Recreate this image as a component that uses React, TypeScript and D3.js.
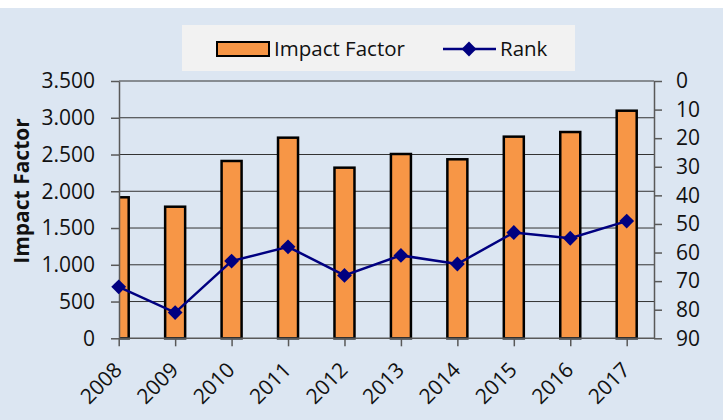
import { useEffect, useRef } from 'react';
import * as d3 from 'd3';

const years = ['2008', '2009', '2010', '2011', '2012', '2013', '2014', '2015', '2016', '2017'];
const impactFactor = [1.918, 1.79, 2.412, 2.729, 2.321, 2.507, 2.435, 2.743, 2.806, 3.096];
const rank = [72, 81, 63, 58, 68, 61, 64, 53, 55, 49];
const leftTicks = [0, 0.5, 1, 1.5, 2, 2.5, 3, 3.5];
const leftTickLabels = ['0', '500', '1.000', '1.500', '2.000', '2.500', '3.000', '3.500'];
const rightTicks = [0, 10, 20, 30, 40, 50, 60, 70, 80, 90];

export default function App() {
  const svgRef = useRef<SVGSVGElement>(null);

  useEffect(() => {
    if (!svgRef.current) return;
    const svg = d3.select(svgRef.current);
    svg.selectAll('*').remove();

    const width = 723;
    const height = 420;
    const left = 119;
    const right = 654;
    const top = 81;
    const bottom = 338.3;

    const orange = '#f79646';
    const navy = '#000080';
    const axisColor = '#595959';
    const textColor = '#111';

    svg.attr('width', width).attr('height', height).style('font-family', "'Open Sans', sans-serif");

    // background
    svg.append('rect').attr('x', 0).attr('y', 8).attr('width', width).attr('height', height - 8).attr('fill', '#dce6f2');

    const x = d3.scalePoint<string>().domain(years).range([118.7, 626.7]);
    const yLeft = d3.scaleLinear().domain([0, 3.5]).range([bottom, top]);
    const yRight = d3.scaleLinear().domain([0, 90]).range([top, bottom]);

    // gridlines
    svg
      .append('g')
      .selectAll('line')
      .data(leftTicks.filter((t) => t > 0))
      .join('line')
      .attr('x1', left)
      .attr('x2', right)
      .attr('y1', (d) => yLeft(d))
      .attr('y2', (d) => yLeft(d))
      .attr('stroke', '#333')
      .attr('stroke-width', 1);

    svg
      .append('clipPath')
      .attr('id', 'plot-clip')
      .append('rect')
      .attr('x', left)
      .attr('y', 0)
      .attr('width', right - left)
      .attr('height', bottom + 4);

    // bars
    const barW = 20;
    svg
      .append('g')
      .attr('clip-path', 'url(#plot-clip)')
      .selectAll('rect')
      .data(impactFactor)
      .join('rect')
      .attr('x', (_, i) => (x(years[i]) ?? 0) - barW / 2)
      .attr('y', (d) => yLeft(d))
      .attr('width', barW)
      .attr('height', (d) => bottom - yLeft(d))
      .attr('fill', orange)
      .attr('stroke', '#000')
      .attr('stroke-width', 2.5);

    // left axis
    const gLeft = svg
      .append('g')
      .attr('transform', `translate(${left},0)`)
      .call(
        d3
          .axisLeft(yLeft)
          .tickValues(leftTicks)
          .tickFormat((_, i) => leftTickLabels[i])
          .tickSize(8)
          .tickSizeOuter(0)
          .tickPadding(16)
      );
    gLeft.selectAll('path,line').attr('stroke', axisColor).attr('stroke-width', 1.5);
    gLeft.selectAll('text').attr('font-size', 21).attr('fill', textColor).attr('font-family', "'Open Sans', sans-serif");

    // right axis
    const gRight = svg
      .append('g')
      .attr('transform', `translate(${right},0)`)
      .call(d3.axisRight(yRight).tickValues(rightTicks).tickSize(8).tickSizeOuter(0).tickPadding(14));
    gRight.selectAll('path,line').attr('stroke', axisColor).attr('stroke-width', 1.5);
    gRight.selectAll('text').attr('font-size', 21).attr('fill', textColor).attr('font-family', "'Open Sans', sans-serif");

    // bottom axis
    svg
      .append('line')
      .attr('x1', left)
      .attr('x2', right)
      .attr('y1', bottom)
      .attr('y2', bottom)
      .attr('stroke', axisColor)
      .attr('stroke-width', 1.5);
    const gBottom = svg
      .append('g')
      .attr('transform', `translate(0,${bottom})`)
      .call(d3.axisBottom(x).tickSize(8).tickSizeOuter(0));
    gBottom.select('.domain').remove();
    gBottom.selectAll('line').attr('stroke', axisColor).attr('stroke-width', 1.5);
    gBottom
      .selectAll('text')
      .attr('y', 0)
      .attr('dy', 0)
      .attr('text-anchor', 'end')
      .attr('transform', 'translate(4,33) rotate(-45)')
      .attr('font-size', 21)
      .attr('fill', textColor)
      .attr('font-family', "'Open Sans', sans-serif");

    // rank line
    const line = d3
      .line<number>()
      .x((_, i) => x(years[i]) ?? 0)
      .y((d) => yRight(d));
    svg.append('path').datum(rank).attr('d', line).attr('fill', 'none').attr('stroke', navy).attr('stroke-width', 2.5);

    const diamond = d3.symbol(d3.symbolSquare, 110);
    svg
      .append('g')
      .selectAll('path')
      .data(rank)
      .join('path')
      .attr('d', diamond)
      .attr('transform', (d, i) => `translate(${x(years[i])},${yRight(d)}) rotate(45)`)
      .attr('fill', navy);

    // y axis title
    svg
      .append('text')
      .attr('transform', 'translate(29,191) rotate(-90)')
      .attr('text-anchor', 'middle')
      .attr('font-size', 21)
      .attr('font-weight', 'bold')
      .attr('fill', textColor)
      .text('Impact Factor');

    // legend
    const lg = svg.append('g');
    lg.append('rect').attr('x', 182).attr('y', 25).attr('width', 393).attr('height', 46).attr('fill', '#f2f2f2');
    lg.append('rect')
      .attr('x', 217)
      .attr('y', 42)
      .attr('width', 52)
      .attr('height', 14)
      .attr('fill', orange)
      .attr('stroke', '#000')
      .attr('stroke-width', 2);
    lg.append('text').attr('x', 274).attr('y', 56).attr('font-size', 20.5).attr('fill', textColor).text('Impact Factor');
    lg.append('line').attr('x1', 443).attr('x2', 496).attr('y1', 49).attr('y2', 49).attr('stroke', navy).attr('stroke-width', 2.5);
    lg.append('path').attr('d', diamond).attr('transform', 'translate(469,49) rotate(45)').attr('fill', navy);
    lg.append('text').attr('x', 500).attr('y', 56).attr('font-size', 20.5).attr('fill', textColor).text('Rank');
  }, []);

  return <svg ref={svgRef} style={{ position: 'absolute', left: 0, top: 0 }} />;
}
